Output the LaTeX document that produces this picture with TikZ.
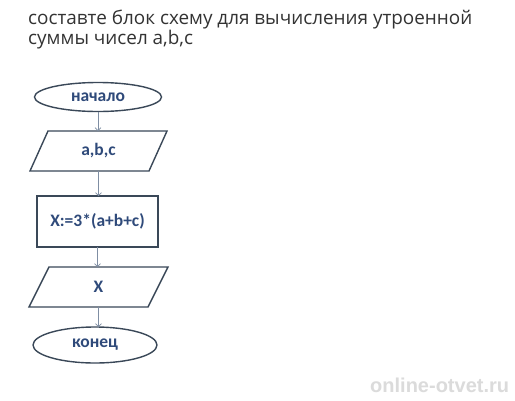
\documentclass[tikz,border=0pt]{standalone}
\usepackage{fontspec}
\setmainfont{Carlito}
\newfontfamily\titlefont{Open Sans}
\newfontfamily\wmfont{Liberation Sans}
\usetikzlibrary{shapes.geometric,arrows.meta}
\definecolor{outl}{HTML}{3A4858}
\definecolor{txtblue}{HTML}{2F4A7A}
\definecolor{arrowc}{HTML}{7F8EA3}
\definecolor{titlec}{HTML}{333333}
\tikzset{
  base/.style={draw=outl, line width=1.4pt, inner sep=0pt, outer sep=0pt,
    text=txtblue, font=\fontsize{17.5}{20}\selectfont\bfseries},
  outline/.style={draw=outl, line width=1.4pt, line join=miter},
  term/.style={base, ellipse},
  io/.style={base, draw=none, rectangle, minimum width=119pt, minimum height=40pt},
  proc/.style={base, rectangle},
  flow/.style={draw=arrowc, line width=0.6pt, -{Straight Barb[length=3pt,width=6pt]}},
  title/.style={anchor=base west, inner sep=0pt, text=titlec, font=\titlefont\fontsize{18.9}{22}\selectfont},
}
\begin{document}
\begin{tikzpicture}[x=1pt,y=1pt]
\useasboundingbox[fill=white] (0,0) rectangle (515,-400);
\node[title] (t1) at (28,-24) {составте блок схему для вычисления утроенной};
\node[title] (t2) at (28,-44) {суммы чисел a,b,c};
\node[term, minimum width=127pt, minimum height=29pt] (start) at (98,-97) {начало};
\node[io] (in) at (98.5,-151) {a,b,c};
\draw[outline] ([xshift=-9pt]in.south west) -- ([xshift=9pt]in.north west) -- ([xshift=9pt]in.north east) -- ([xshift=-9pt]in.south east) -- cycle;
\node[proc, minimum width=121pt, minimum height=51pt] (calc) at (97.5,-221.5) {X:=3*(a+b+c)};
\node[io] (out) at (98.5,-287) {X};
\draw[outline] ([xshift=-10pt]out.south west) -- ([xshift=10pt]out.north west) -- ([xshift=10pt]out.north east) -- ([xshift=-10pt]out.south east) -- cycle;
\node[term, minimum width=124pt, minimum height=36pt] (end) at (95,-345) {конец};
\draw[flow] (start.south) -- (start.south |- in.north);
\draw[flow] (in.south) -- (in.south |- calc.north);
\draw[flow] (calc.south) -- (calc.south |- out.north);
\draw[flow] (out.south) -- (out.south |- end.north);
\node[anchor=base west, inner sep=0pt, text=gray!28, font=\wmfont\bfseries\fontsize{20}{24}\selectfont] (wm) at (370,-392) {online-otvet.ru};
\end{tikzpicture}
\end{document}
